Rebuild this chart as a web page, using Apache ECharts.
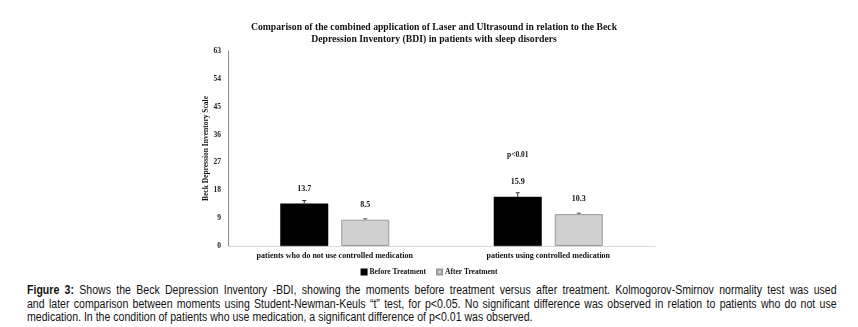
<!DOCTYPE html>
<html>
<head>
<meta charset="utf-8">
<script src="https://cdn.jsdelivr.net/npm/echarts@6/dist/echarts.min.js"></script>
<style>
  html, body { margin: 0; padding: 0; background: #fff; }
  #page { position: relative; width: 858px; height: 327px; overflow: hidden; }
  #chart { position: absolute; left: 0; top: 0; width: 858px; height: 280px; }
  #caption {
    position: absolute; left: 27px; top: 284px; width: 920px;
    transform: scaleX(0.88); transform-origin: 0 0;
    font-family: 'Liberation Sans', Arial, sans-serif;
    font-size: 12px; line-height: 13.5px; color: #111;
  }
  #caption div { white-space: nowrap; text-align: left; }
  #caption div.full { text-align: justify; text-align-last: justify; }
  #caption b { font-weight: bold; }
</style>
</head>
<body>
<div id="page">
  <div id="chart"></div>
  <div id="caption">
    <div class="full"><b>Figure 3:</b> Shows the Beck Depression Inventory -BDI, showing the moments before treatment versus after treatment. Kolmogorov-Smirnov normality test was used</div>
    <div class="full">and later comparison between moments using Student-Newman-Keuls “t” test, for p&lt;0.05. No significant difference was observed in relation to patients who do not use</div>
    <div>medication. In the condition of patients who use medication, a significant difference of p&lt;0.01 was observed.</div>
  </div>
</div>
<script>
// Données
const categories = ['patients who do not use controlled medication', 'patients using controlled medication'];
const seriesNames = ['Before Treatment', 'After Treatment'];
const beforeValues = [13.7, 15.9];
const afterValues = [8.5, 10.3];
const beforeErrors = [1.0, 1.3];
const afterErrors = [0.3, 0.3];
const yTicks = [0, 9, 18, 27, 36, 45, 54, 63];
const significance = ['', 'p<0.01'];

const serif = "'Liberation Serif', 'Times New Roman', serif";
const barWidthRatio = 0.225;
const barGapRatio = 0.27;

const chart = echarts.init(document.getElementById('chart'));

// Barres d'erreur (partie haute seulement, comme sur l'original)
function errorSeries(values, errors, side, color) {
    return {
        type: 'custom',
        z: 5,
        silent: true,
        data: values.map((v, i) => [i, v, v + errors[i]]),
        renderItem: function (params, api) {
            const band = api.size([1, 0])[0];
            const offset = side * band * (barWidthRatio + barWidthRatio * barGapRatio) / 2;
            const bottom = api.coord([api.value(0), api.value(1)]);
            const top = api.coord([api.value(0), api.value(2)]);
            const x = bottom[0] + offset;
            const style = { stroke: color, lineWidth: 1 };
            return {
                type: 'group',
                children: [
                    { type: 'line', shape: { x1: x, y1: bottom[1], x2: x, y2: top[1] }, style: style },
                    { type: 'line', shape: { x1: x - 2, y1: top[1], x2: x + 2, y2: top[1] }, style: style }
                ]
            };
        }
    };
}

const valueLabel = {
    show: true,
    position: 'top',
    distance: 11,
    color: '#111',
    fontFamily: serif,
    fontWeight: 'bold',
    fontSize: 8,
    formatter: p => p.value.toFixed(1)
};

// Annotation de significativité placée au-dessus du groupe concerné
const significancePoints = [];
significance.forEach((s, i) => {
    if (s) significancePoints.push({ name: s, coord: [i, 29.5] });
});

const option = {
    backgroundColor: '#fff',
    animation: false,
    title: {
        text: 'Comparison of the combined application of Laser and Ultrasound in relation to the Beck\nDepression Inventory (BDI) in patients with sleep disorders',
        left: 429,
        top: 16,
        textAlign: 'center',
        textStyle: {
            fontFamily: serif,
            fontWeight: 'bold',
            fontSize: 9.7,
            lineHeight: 12,
            color: '#111'
        }
    },
    legend: {
        data: [
            { name: seriesNames[0], icon: 'rect' },
            { name: seriesNames[1], icon: 'rect' }
        ],
        left: 'center',
        top: 263,
        itemWidth: 5,
        itemHeight: 5,
        itemGap: 10,
        textStyle: { fontFamily: serif, fontWeight: 'bold', fontSize: 7.5, color: '#111', padding: [0, 0, 0, -2] }
    },
    grid: { left: 228, right: 203, top: 51, height: 195, containLabel: false },
    xAxis: {
        type: 'category',
        data: categories,
        axisLine: { lineStyle: { color: '#d9d9d9', width: 1 } },
        axisTick: { show: false },
        axisLabel: {
            fontFamily: serif, fontWeight: 'bold', fontSize: 8, color: '#111',
            margin: 6, interval: 0
        }
    },
    yAxis: {
        type: 'value',
        min: yTicks[0],
        max: yTicks[yTicks.length - 1],
        interval: yTicks[1] - yTicks[0],
        name: 'Beck Depression Inventory Scale',
        nameLocation: 'middle',
        nameGap: 17,
        nameTextStyle: { fontFamily: serif, fontWeight: 'bold', fontSize: 7.5, color: '#111' },
        axisLine: { show: true, lineStyle: { color: '#8c8c8c', width: 1 } },
        axisTick: { show: false },
        splitLine: { show: false },
        axisLabel: { fontFamily: serif, fontWeight: 'bold', fontSize: 7.5, color: '#222', margin: 7 }
    },
    series: [
        {
            name: seriesNames[0],
            type: 'bar',
            data: beforeValues,
            barWidth: (barWidthRatio * 100) + '%',
            barGap: (barGapRatio * 100) + '%',
            itemStyle: { color: '#000', borderColor: '#000', borderWidth: 0.5 },
            label: valueLabel,
            markPoint: {
                symbolSize: 0,
                label: {
                    show: true, position: 'inside',
                    fontFamily: serif, fontWeight: 'bold', fontSize: 7.5, color: '#111',
                    formatter: p => p.name
                },
                data: significancePoints
            }
        },
        {
            name: seriesNames[1],
            type: 'bar',
            data: afterValues,
            barWidth: (barWidthRatio * 100) + '%',
            barGap: (barGapRatio * 100) + '%',
            itemStyle: { color: '#d0d0d0', borderColor: '#9a9a9a', borderWidth: 1 },
            label: valueLabel
        },
        errorSeries(beforeValues, beforeErrors, -1, '#333'),
        errorSeries(afterValues, afterErrors, 1, '#555')
    ]
};

chart.setOption(option);
</script>
</body>
</html>
